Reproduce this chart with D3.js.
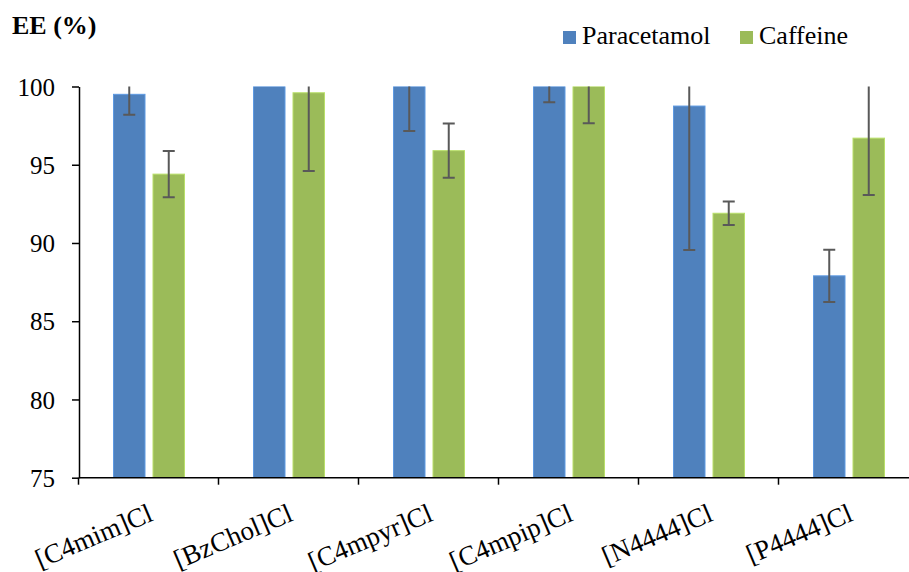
<!DOCTYPE html>
<html>
<head>
<meta charset="utf-8">
<script src="https://cdn.jsdelivr.net/npm/d3@7"></script>
<style>
  html, body { margin: 0; padding: 0; background: #fff; }
  svg { display: block; }
  svg text { font-family: "Liberation Serif", "Times New Roman", serif !important; }
</style>
</head>
<body>
<svg id="chart" width="909" height="572"></svg>
<script>
// Encapsulation efficiency (EE %) per ionic liquid
const categories = ["[C4mim]Cl", "[BzChol]Cl", "[C4mpyr]Cl", "[C4mpip]Cl", "[N4444]Cl", "[P4444]Cl"];
const seriesNames = ["Paracetamol", "Caffeine"];
const paracetamol = [99.5, 100, 100, 100, 98.75, 87.9];
const paracetamolErr = [1.3, 0, 2.85, 1.0, 9.2, 1.67];
const caffeine = [94.4, 99.6, 95.9, 100, 91.9, 96.7];
const caffeineErr = [1.48, 5.0, 1.73, 2.35, 0.75, 3.64];
const yTicks = [75, 80, 85, 90, 95, 100];
const colors = ["#4F81BD", "#9BBB59"];

const svg = d3.select("#chart");

const x = d3.scaleBand().domain(categories).range([78.5, 918.5]).padding(0);
const xs = d3.scaleBand().domain(seriesNames)
  .range([35, 106]).paddingInner(8 / 39.5).paddingOuter(0);
const y = d3.scaleLinear().domain([75, 100]).range([477.7, 86.5]);

const rows = categories.map((c, i) => ({
  cat: c,
  vals: [
    { s: seriesNames[0], v: paracetamol[i], e: paracetamolErr[i] },
    { s: seriesNames[1], v: caffeine[i], e: caffeineErr[i] }
  ]
}));

// clip marks to the plot range (values above 100 are cut at the top)
svg.append("defs").append("clipPath").attr("id", "plotClip")
  .append("rect").attr("x", 78).attr("y", y(100)).attr("width", 840).attr("height", y(75) - y(100));

const plot = svg.append("g").attr("clip-path", "url(#plotClip)");

const groups = plot.selectAll("g.grp").data(rows).join("g")
  .attr("class", "grp")
  .attr("transform", d => `translate(${x(d.cat)},0)`);

groups.selectAll("rect").data(d => d.vals).join("rect")
  .attr("x", d => xs(d.s))
  .attr("width", xs.bandwidth())
  .attr("y", d => y(d.v))
  .attr("height", d => y(75) - y(d.v))
  .attr("fill", (d, i) => colors[i])
  .attr("stroke", (d, i) => d3.color(colors[i]).brighter(0.5))
  .attr("stroke-width", 1);

// error bars
const eb = groups.selectAll("g.err").data(d => d.vals.filter(v => v.e > 0)).join("g")
  .attr("class", "err")
  .attr("stroke", "#595959")
  .attr("stroke-width", 2);
eb.append("line")
  .attr("x1", d => xs(d.s) + xs.bandwidth() / 2)
  .attr("x2", d => xs(d.s) + xs.bandwidth() / 2)
  .attr("y1", d => y(d.v + d.e))
  .attr("y2", d => y(d.v - d.e));
eb.append("line")
  .attr("x1", d => xs(d.s) + xs.bandwidth() / 2 - 6)
  .attr("x2", d => xs(d.s) + xs.bandwidth() / 2 + 6)
  .attr("y1", d => y(d.v - d.e))
  .attr("y2", d => y(d.v - d.e));
eb.append("line")
  .attr("x1", d => xs(d.s) + xs.bandwidth() / 2 - 6)
  .attr("x2", d => xs(d.s) + xs.bandwidth() / 2 + 6)
  .attr("y1", d => y(d.v + d.e))
  .attr("y2", d => y(d.v + d.e));

// y axis
const yAxis = svg.append("g").attr("transform", "translate(79,0)")
  .call(d3.axisLeft(y).tickValues(yTicks).tickSize(7).tickSizeOuter(0).tickPadding(17));
yAxis.select(".domain").attr("stroke", "#000").attr("stroke-width", 1.5);
yAxis.selectAll(".tick line").attr("stroke", "#000").attr("stroke-width", 1.5);
yAxis.selectAll(".tick text").attr("font-size", 25).attr("fill", "#000").attr("dy", "0.35em");

// x axis
const xAxisG = svg.append("g");
xAxisG.append("line")
  .attr("x1", 79).attr("x2", 909).attr("y1", y(75)).attr("y2", y(75))
  .attr("stroke", "#000").attr("stroke-width", 1.5);
const bounds = categories.map(c => x(c)).concat([x(categories[categories.length - 1]) + x.bandwidth()]);
xAxisG.selectAll("line.tk").data(bounds).join("line").attr("class", "tk")
  .attr("x1", d => d).attr("x2", d => d)
  .attr("y1", y(75)).attr("y2", y(75) + 7)
  .attr("stroke", "#000").attr("stroke-width", 1.5);
xAxisG.selectAll("text").data(categories).join("text")
  .attr("transform", d => `translate(${x(d) + x.bandwidth() / 2 + 6},520) rotate(-23)`)
  .attr("text-anchor", "end")
  .attr("font-size", 27)
  .attr("fill", "#000")
  .text(d => d);

// y title
svg.append("text").attr("x", 12).attr("y", 34)
  .attr("font-size", 26).attr("font-weight", "bold").attr("fill", "#000")
  .text("EE (%)");

// legend
const legendX = [563, 740];
const lg = svg.selectAll("g.legend").data(seriesNames).join("g").attr("class", "legend")
  .attr("transform", (d, i) => `translate(${legendX[i]},31)`);
lg.append("rect").attr("width", 13).attr("height", 13).attr("fill", (d, i) => colors[i]);
lg.append("text").attr("x", 19).attr("y", 13).attr("font-size", 26).attr("fill", "#000").text(d => d);
</script>
</body>
</html>
